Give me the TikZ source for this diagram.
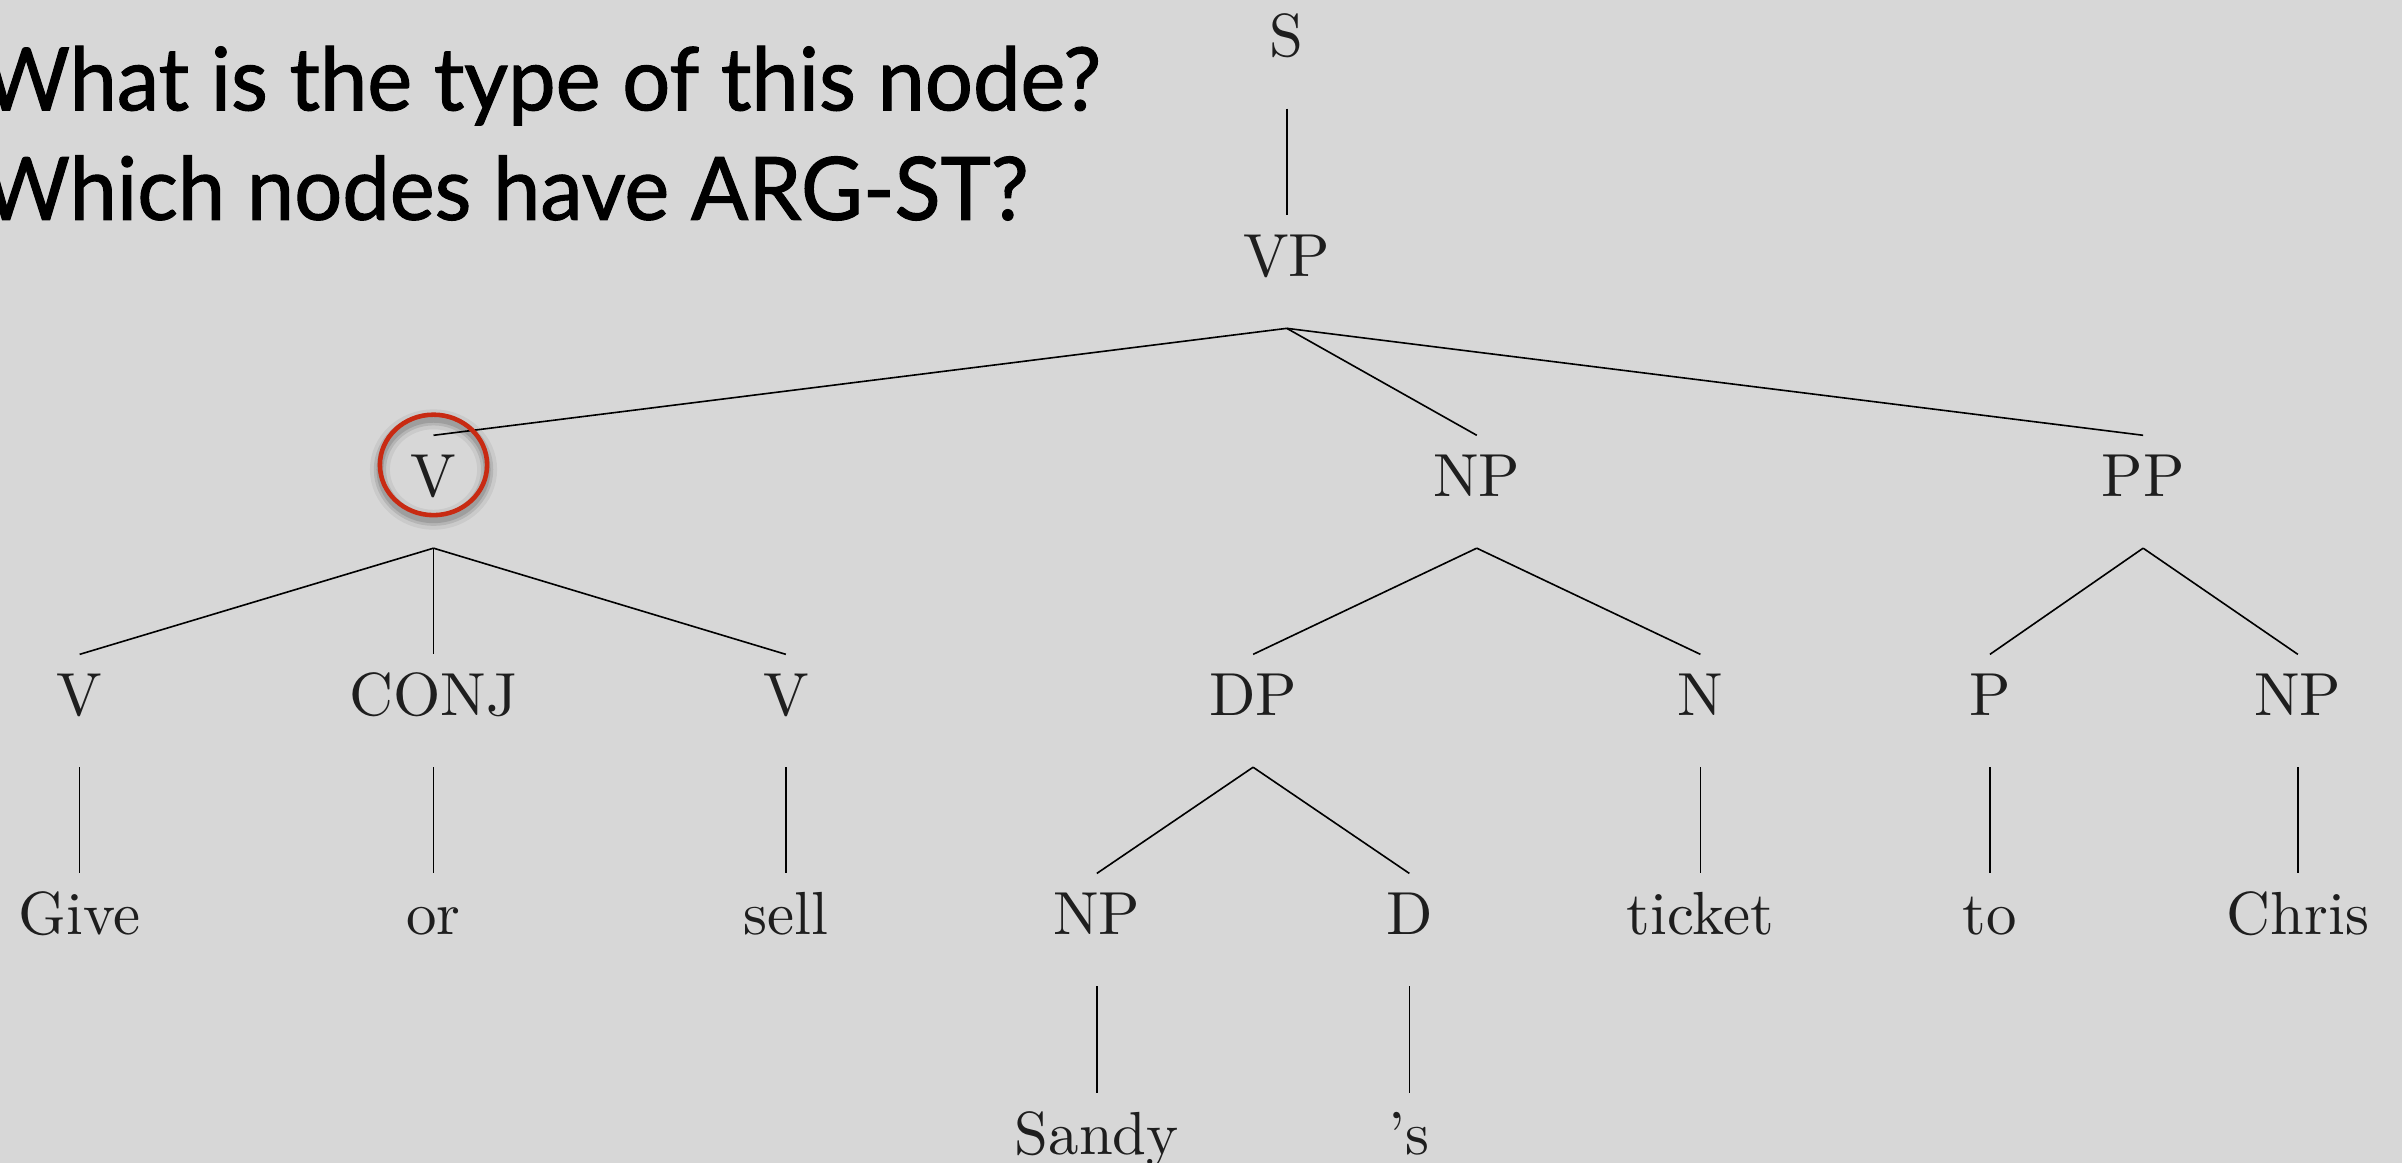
\documentclass[tikz,border=0pt]{standalone}
\usepackage{fontspec}
\newfontfamily\headfont[FakeStretch=0.97,FakeBold=1.2]{Lato}
\newfontfamily\treefont[Ligatures=TeX]{lmroman10-regular.otf}
\usetikzlibrary{calc}
\definecolor{bg}{RGB}{215,215,215}
\definecolor{ringred}{RGB}{200,42,18}
\definecolor{ink}{RGB}{30,30,30}
\tikzset{
  cat/.style={anchor=base, inner sep=0pt, text height=0.79cm, text depth=0.67cm,
              font=\treefont\fontsize{22.6}{27}\selectfont, text=ink},
  edge/.style={draw=black, line width=0.6pt},
  head/.style={anchor=base west, inner sep=0pt, font=\headfont\fontsize{32.5}{39}\selectfont, text=black},
  ring/.style={draw=ringred, line width=1.7pt},
}
\begin{document}
\begin{tikzpicture}[x=0.02cm, y=-0.02cm]
\fill[bg] (0,0) rectangle (1568,759);
\useasboundingbox (0,0) rectangle (1568,759);

% questions
\node[head] (q1) at (-12,72) {What is the type of this node?};
\node[head] (q2) at (-12,143.5) {Which nodes have ARG-ST?};

% tree nodes
\node[cat] (S)    at (840,37)    {S};
\node[cat] (VP)   at (840,180.5) {VP};
\node[cat] (V)    at (283,324)   {V};
\node[cat] (NP)   at (964,324)   {NP};
\node[cat] (PP)   at (1399,324)  {PP};
\node[cat] (Va)   at (52,467)    {V};
\node[cat] (CONJ) at (283,467)   {CONJ};
\node[cat] (Vb)   at (513,467)   {V};
\node[cat] (DP)   at (818,467)   {DP};
\node[cat] (N)    at (1110,467)  {N};
\node[cat] (P)    at (1299,467)  {P};
\node[cat] (NPb)  at (1500,467)  {NP};
\node[cat] (give) at (52,610)    {Give};
\node[cat] (or)   at (283,610)   {or};
\node[cat] (sell) at (513,610)   {sell};
\node[cat] (NPc)  at (716,610)   {NP};
\node[cat] (D)    at (920,610)   {D};
\node[cat] (tick) at (1110,610)  {ticket};
\node[cat] (to)   at (1299,610)  {to};
\node[cat] (chr)  at (1500,610)  {Chris};
\node[cat] (sandy) at (716,753.5) {Sandy};
\node[cat] (poss)  at (920,753.5) {’s};

% edges
\draw[edge] (S.south) -- (VP.north);
\draw[edge] (VP.south) -- (V.north);
\draw[edge] (VP.south) -- (NP.north);
\draw[edge] (VP.south) -- (PP.north);
\draw[edge] (V.south) -- (Va.north);
\draw[edge] (V.south) -- (CONJ.north);
\draw[edge] (V.south) -- (Vb.north);
\draw[edge] (NP.south) -- (DP.north);
\draw[edge] (NP.south) -- (N.north);
\draw[edge] (PP.south) -- (P.north);
\draw[edge] (PP.south) -- (NPb.north);
\draw[edge] (Va.south) -- (give.north);
\draw[edge] (CONJ.south) -- (or.north);
\draw[edge] (Vb.south) -- (sell.north);
\draw[edge] (DP.south) -- (NPc.north);
\draw[edge] (DP.south) -- (D.north);
\draw[edge] (N.south) -- (tick.north);
\draw[edge] (P.south) -- (to.north);
\draw[edge] (NPb.south) -- (chr.north);
\draw[edge] (NPc.south) -- (sandy.north);
\draw[edge] (D.south) -- (poss.north);

% highlight ring with soft shadow
\coordinate (rc) at ($(V.base)+(0,-20.5)$);
\coordinate (rs) at ($(rc)+(0,3)$);
\draw[black, opacity=0.06, line width=0.26cm] (rs) ellipse [x radius=0.70cm, y radius=0.656cm];
\draw[black, opacity=0.10, line width=0.16cm] (rs) ellipse [x radius=0.70cm, y radius=0.656cm];
\draw[black, opacity=0.12, line width=0.09cm] (rs) ellipse [x radius=0.70cm, y radius=0.656cm];
\draw[ring] (rc) ellipse [x radius=0.70cm, y radius=0.656cm];
\end{tikzpicture}
\end{document}
